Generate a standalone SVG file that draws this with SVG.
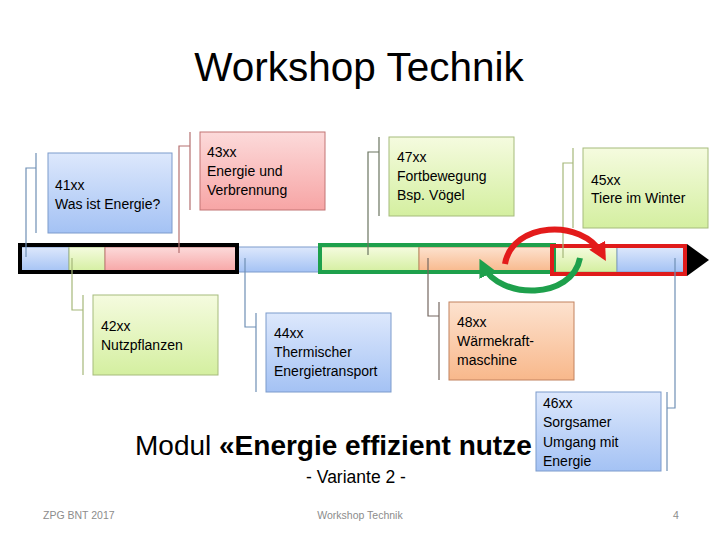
<svg xmlns="http://www.w3.org/2000/svg" width="720" height="540" viewBox="0 0 720 540">
<defs>
<linearGradient id="gBlue" x1="0" y1="0" x2="0" y2="1"><stop offset="0" stop-color="#dde8fc"/><stop offset="1" stop-color="#a4c2f4"/></linearGradient>
<linearGradient id="gPink" x1="0" y1="0" x2="0" y2="1"><stop offset="0" stop-color="#fcdada"/><stop offset="1" stop-color="#f7a5a5"/></linearGradient>
<linearGradient id="gGreen" x1="0" y1="0" x2="0" y2="1"><stop offset="0" stop-color="#f5fbdf"/><stop offset="1" stop-color="#d4efa0"/></linearGradient>
<linearGradient id="gOrange" x1="0" y1="0" x2="0" y2="1"><stop offset="0" stop-color="#fde2cf"/><stop offset="1" stop-color="#f8b88b"/></linearGradient>
<marker id="mRed" markerUnits="userSpaceOnUse" markerWidth="18" markerHeight="18" refX="10" refY="9" orient="auto"><path d="M0,0 L18,9 L0,18 z" fill="#e31b1b"/></marker>
<marker id="mGreen" markerUnits="userSpaceOnUse" markerWidth="18" markerHeight="18" refX="10" refY="9" orient="auto"><path d="M0,0 L18,9 L0,18 z" fill="#1ea04c"/></marker>
</defs>
<style>
.t{font-family:"Liberation Sans",Arial,sans-serif;fill:#000}
.bx{font-size:14px}
.blue{fill:url(#gBlue);stroke:#7d9bcc;stroke-width:1}
.pink{fill:url(#gPink);stroke:#c27474;stroke-width:1}
.green{fill:url(#gGreen);stroke:#a6bb7c;stroke-width:1}
.orange{fill:url(#gOrange);stroke:#c2825e;stroke-width:1}
.seg{stroke-width:1}
.cn{fill:none;stroke-width:1.2}
.foot{font-family:"Liberation Sans",Arial,sans-serif;font-size:10.5px;fill:#8c8c8c}
</style>
<rect width="720" height="540" fill="#ffffff"/>
<text class="t" x="359" y="81" font-size="40.5" text-anchor="middle">Workshop Technik</text>
<text class="t" x="135" y="455" font-size="28">Modul <tspan font-weight="bold">«Energie effizient nutze</tspan></text>
<text class="t" x="356" y="483" font-size="17.5" text-anchor="middle">- Variante 2 -</text>
<text class="foot" x="43" y="519">ZPG BNT 2017</text>
<text class="foot" x="360" y="519" text-anchor="middle">Workshop Technik</text>
<text class="foot" x="673" y="519">4</text>
<g id="timeline">
<rect class="blue seg" x="20" y="247" width="49" height="25"/>
<rect class="green seg" x="69" y="247" width="36" height="25"/>
<rect class="pink seg" x="105" y="247" width="132" height="25"/>
<rect class="blue seg" x="237" y="247" width="83" height="25"/>
<rect class="green seg" x="320" y="247" width="99" height="25"/>
<rect class="orange seg" x="419" y="247" width="132" height="25"/>
<rect class="green seg" x="551" y="247" width="66" height="25"/>
<rect class="blue seg" x="617" y="247" width="69" height="25"/>
<rect x="20" y="245" width="217" height="27" fill="none" stroke="#000" stroke-width="4"/>
<rect x="320" y="245" width="234" height="27" fill="none" stroke="#1ea04c" stroke-width="4"/>
<rect x="552" y="246" width="133" height="28" fill="none" stroke="#e01b1b" stroke-width="4"/>
<polygon points="687,244 709,260 687,276" fill="#000"/>
</g>
<g id="connectors">
<path class="cn" stroke="#6f8fb5" d="M36 153 V233 M36 168 H26 V257"/>
<path class="cn" stroke="#b57070" d="M190 132 V210 M190 146 H179 V253"/>
<path class="cn" stroke="#6b7560" d="M379 137 V216 M379 152 H368 V255"/>
<path class="cn" stroke="#a6b87a" d="M573 148 V228 M573 163 H563 V258"/>
<path class="cn" stroke="#a6b87a" d="M83 295 V375 M83 310 H72 V258"/>
<path class="cn" stroke="#6f8fb5" d="M256 313 V392 M256 327 H245 V258"/>
<path class="cn" stroke="#756760" d="M439 302 V380 M439 316 H428 V258"/>
<path class="cn" stroke="#6f8fb5" d="M667 392 V471 M667 408 H675 V258"/>
<path d="M505 264 C512 222, 582 218, 602 254" fill="none" stroke="#e31b1b" stroke-width="6" marker-end="url(#mRed)"/>
<path d="M580 258 C572 300, 500 300, 483 266" fill="none" stroke="#1ea04c" stroke-width="6" marker-end="url(#mGreen)"/>
</g>
<g id="n41">
<rect class="blue" x="48" y="153" width="124" height="80"/>
<text class="t bx" x="55" y="190">41xx</text>
<text class="t bx" x="55" y="209">Was ist Energie?</text>
</g>
<g id="n43">
<rect class="pink" x="200" y="132" width="125" height="78"/>
<text class="t bx" x="207" y="157">43xx</text>
<text class="t bx" x="207" y="176">Energie und</text>
<text class="t bx" x="207" y="195">Verbrennung</text>
</g>
<g id="n47">
<rect class="green" x="389" y="137" width="125" height="79"/>
<text class="t bx" x="397" y="162">47xx</text>
<text class="t bx" x="397" y="181">Fortbewegung</text>
<text class="t bx" x="397" y="200">Bsp. Vögel</text>
</g>
<g id="n45">
<rect class="green" x="583" y="148" width="125" height="80"/>
<text class="t bx" x="591" y="185">45xx</text>
<text class="t bx" x="591" y="203">Tiere im Winter</text>
</g>
<g id="n42">
<rect class="green" x="93" y="295" width="125" height="80"/>
<text class="t bx" x="101" y="331">42xx</text>
<text class="t bx" x="101" y="350">Nutzpflanzen</text>
</g>
<g id="n44">
<rect class="blue" x="266" y="313" width="125" height="79"/>
<text class="t bx" x="274" y="338">44xx</text>
<text class="t bx" x="274" y="357">Thermischer</text>
<text class="t bx" x="274" y="376">Energietransport</text>
</g>
<g id="n48">
<rect class="orange" x="449" y="302" width="125" height="78"/>
<text class="t bx" x="457" y="327">48xx</text>
<text class="t bx" x="457" y="346">Wärmekraft-</text>
<text class="t bx" x="457" y="365">maschine</text>
</g>
<g id="n46">
<rect class="blue" x="536" y="392" width="125" height="79"/>
<text class="t bx" x="543" y="408">46xx</text>
<text class="t bx" x="543" y="427">Sorgsamer</text>
<text class="t bx" x="543" y="447">Umgang mit</text>
<text class="t bx" x="543" y="466">Energie</text>
</g>
</svg>
